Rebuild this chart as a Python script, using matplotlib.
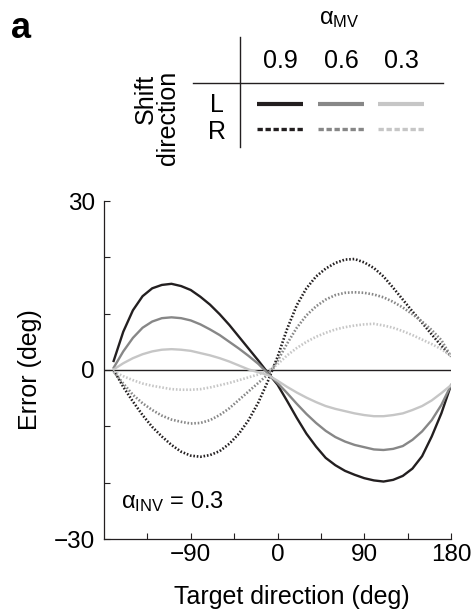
import numpy as np
import matplotlib
matplotlib.use("Agg")
from matplotlib import pyplot as plt

plt.rcParams['font.family'] = ['Liberation Sans', 'DejaVu Sans']
plt.rcParams['mathtext.fontset'] = 'custom'
plt.rcParams['mathtext.rm'] = 'Liberation Sans'
plt.rcParams['mathtext.it'] = 'Liberation Sans:italic'

# target direction (deg) where the curves were read
direction = [-170, -160, -150, -140, -130, -120, -110, -100, -90, -80, -70, -60,
             -50, -40, -30, -20, -10, 0, 10, 20, 30, 40, 50, 60, 70, 80, 90,
             100, 110, 120, 130, 140, 150, 160, 170, 180]

# error (deg), shift direction L (solid)
err_L_09 = [1.6, 6.8, 10.6, 13.1, 14.5, 15.1, 15.3, 14.9, 14.2, 13.0, 11.6, 9.9,
            8.0, 5.9, 3.8, 1.7, -0.5, -2.6, -5.5, -8.5, -11.3, -13.6, -15.6, -16.9,
            -17.9, -18.6, -19.2, -19.6, -19.8, -19.5, -18.8, -17.5, -15.3, -11.8, -7.7, -2.7]
err_L_06 = [0.4, 3.3, 5.7, 7.5, 8.6, 9.2, 9.35, 9.2, 8.8, 8.1, 7.2, 6.2,
            5.0, 3.8, 2.5, 1.1, -0.6, -2.3, -4.1, -6.0, -7.8, -9.4, -10.8, -11.9,
            -12.7, -13.3, -13.7, -14.1, -14.2, -14.0, -13.5, -12.4, -10.9, -8.9, -6.2, -2.7]
err_L_03 = [0.1, 1.2, 2.1, 2.8, 3.3, 3.6, 3.7, 3.6, 3.4, 3.0, 2.6, 2.1,
            1.5, 0.8, 0.1, -0.4, -0.9, -1.9, -3.0, -4.0, -4.9, -5.7, -6.4, -6.9,
            -7.3, -7.7, -8.0, -8.2, -8.2, -8.0, -7.7, -7.1, -6.4, -5.4, -4.1, -2.7]

# error (deg), shift direction R (dotted)
err_R_09 = [0.0, -3.0, -5.6, -8.0, -10.1, -11.8, -13.3, -14.5, -15.2, -15.4, -15.1, -14.4,
            -13.1, -11.3, -8.9, -5.8, -2.0, 2.3, 7.3, 11.5, 14.5, 16.6, 18.0, 19.0,
            19.6, 19.7, 19.1, 18.1, 16.6, 14.6, 12.5, 10.4, 8.4, 6.3, 4.3, 2.4]
err_R_06 = [-0.3, -2.4, -4.4, -5.9, -7.1, -8.1, -8.8, -9.2, -9.5, -9.4, -8.9, -8.0,
            -6.8, -5.3, -3.8, -2.3, -0.8, 1.6, 4.7, 7.5, 9.7, 11.3, 12.5, 13.3,
            13.7, 13.8, 13.7, 13.4, 12.9, 12.1, 11.1, 9.9, 8.6, 7.1, 5.3, 2.4]
err_R_03 = [-0.3, -1.1, -1.8, -2.4, -2.8, -3.1, -3.4, -3.5, -3.5, -3.4, -3.1, -2.7,
            -2.3, -1.8, -1.3, -0.8, -0.2, 1.0, 2.6, 3.9, 5.0, 5.9, 6.6, 7.2,
            7.6, 7.9, 8.1, 8.2, 7.9, 7.5, 6.9, 6.2, 5.4, 4.6, 3.7, 2.5]

alpha_mv = ["0.9", "0.6", "0.3"]
shift_dirs = ["L", "R"]
greys = ["#231f20", "#878787", "#c6c6c6"]

curves_L = [err_L_09, err_L_06, err_L_03]
curves_R = [err_R_09, err_R_06, err_R_03]

fig = plt.figure(figsize=(4.75, 6.16), dpi=100)

# ---- main panel
ax = fig.add_axes([104 / 475, 77 / 616, 347 / 475, 338 / 616])
ax.axhline(0, color="#231f20", lw=1.0, zorder=1)

for i in range(3):
    ax.plot(direction, curves_R[i], color=greys[i], lw=1.9,
            linestyle=(0, (0.6, 0.7)), zorder=2)
    ax.plot(direction, curves_L[i], color=greys[i], lw=1.7, zorder=3)

ax.set_xlim(-180, 180)
ax.set_ylim(-30, 30)
ax.set_xticks([-90, 0, 90, 180])
ax.set_xticks([-135, -45, 45, 135], minor=True)
ax.set_yticks([-30, 0, 30])
ax.set_yticks([-20, -10, 10, 20], minor=True)
ax.tick_params(which="both", direction="in", length=4, width=0.8, color="#231f20")
ax.tick_params(axis="x", labelsize=17.5, pad=3.5)
ax.tick_params(axis="y", labelsize=17.5, pad=6.5)
for s in ["top", "right"]:
    ax.spines[s].set_visible(False)
for s in ["left", "bottom"]:
    ax.spines[s].set_linewidth(0.9)
    ax.spines[s].set_color("#231f20")

ax.set_xlabel("Target direction (deg)", fontsize=18)
ax.xaxis.set_label_coords(0.54, -0.135)
ax.set_ylabel("Error (deg)", fontsize=18)
ax.yaxis.set_label_coords(-0.178, 0.5)

ax.text(0.05, 0.11, r"α$_{\mathrm{INV}}$ = 0.3", transform=ax.transAxes,
        fontsize=17, ha="left", va="center")

# ---- legend table on top, in pixel coords
lg = fig.add_axes([0, 0, 1, 1])
lg.set_xlim(0, 475)
lg.set_ylim(616, 0)
lg.axis("off")

lg.text(11, 38, "a", fontsize=26, fontweight="bold", ha="left", va="baseline")
lg.text(339, 19, r"α$_{\mathrm{MV}}$", fontsize=17, ha="center", va="center")

lg.plot([240, 240], [37, 147], color="#231f20", lw=1.0)
lg.plot([193, 443], [83, 83], color="#231f20", lw=1.0)

col_x = [280, 341, 401]
for i, lab in enumerate(alpha_mv):
    lg.text(col_x[i], 61, lab, fontsize=18, ha="center", va="center")
    lg.plot([col_x[i] - 23, col_x[i] + 23], [103.5, 103.5], color=greys[i],
            lw=3.0, solid_capstyle="butt")
    lg.plot([col_x[i] - 23, col_x[i] + 23], [129, 129], color=greys[i],
            lw=2.4, linestyle=(0, (1.6, 0.8)))

lg.text(217, 105, shift_dirs[0], fontsize=18, ha="center", va="center")
lg.text(217, 132, shift_dirs[1], fontsize=18, ha="center", va="center")
lg.text(146, 74, "Shift", fontsize=18, rotation=90, ha="center", va="top")
lg.text(168, 71, "direction", fontsize=18, rotation=90, ha="center", va="top")

fig.savefig("out.png", dpi=100)
